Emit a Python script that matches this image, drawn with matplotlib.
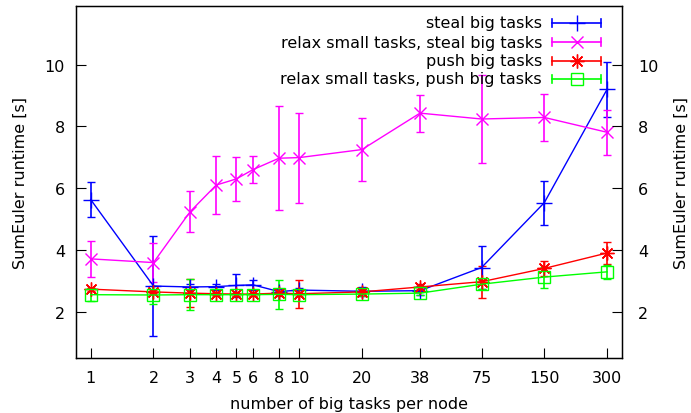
import matplotlib
matplotlib.use("Agg")
import matplotlib.pyplot as plt
from matplotlib.ticker import FixedLocator, FixedFormatter, NullLocator

plt.rcParams['font.family'] = ['DejaVu Sans']
FS = 11.5

tasks = [1, 2, 3, 4, 5, 6, 8, 10, 20, 38, 75, 150, 300]
tick_labels = ["1", "2", "3", "4", "5", "6", "8", "10", "20", "38", "75", "150", "300"]

steal_mean = [5.63, 2.83, 2.80, 2.81, 2.85, 2.87, 2.65, 2.70, 2.66, 2.68, 3.43, 5.53, 9.20]
steal_err = [0.57, 1.62, 0.10, 0.10, 0.36, 0.16, 0.08, 0.08, 0.15, 0.15, 0.69, 0.71, 0.90]

relax_steal_mean = [3.71, 3.59, 5.24, 6.10, 6.30, 6.60, 6.97, 6.99, 7.25, 8.43, 8.24, 8.29, 7.81]
relax_steal_err = [0.58, 0.64, 0.67, 0.93, 0.72, 0.43, 1.69, 1.46, 1.02, 0.60, 1.42, 0.77, 0.72]

push_mean = [2.73, 2.64, 2.60, 2.58, 2.57, 2.57, 2.60, 2.58, 2.64, 2.80, 2.97, 3.40, 3.90]
push_err = [0.05, 0.05, 0.45, 0.05, 0.05, 0.05, 0.08, 0.46, 0.08, 0.08, 0.52, 0.25, 0.36]

relax_push_mean = [2.55, 2.54, 2.55, 2.55, 2.55, 2.55, 2.56, 2.55, 2.57, 2.60, 2.89, 3.12, 3.29]
relax_push_err = [0.22, 0.30, 0.50, 0.05, 0.05, 0.05, 0.46, 0.05, 0.05, 0.05, 0.15, 0.34, 0.22]

series = [
    ("steal big tasks", steal_mean, steal_err, "#0000ff", "+", 11),
    ("relax small tasks, steal big tasks", relax_steal_mean, relax_steal_err, "#ff00ff", "x", 9),
    ("push big tasks", push_mean, push_err, "#ff0000", (8, 2, 0), 10),
    ("relax small tasks, push big tasks", relax_push_mean, relax_push_err, "#00ff00", "s", 9),
]

fig = plt.figure(figsize=(6.91, 4.14), dpi=100)
ax = fig.add_axes([0.110, 0.1329, 0.7902, 0.8502])

for label, mean, err, color, marker, ms in series:
    ax.errorbar(tasks, mean, yerr=err, color=color, lw=1.0, elinewidth=1.2,
                capsize=3, capthick=1.2, marker=marker, ms=ms, mew=1.0,
                mfc='none', mec=color)

ax.set_xscale('log', base=2)
ax.set_xlim(0.85, 354)
ax.set_ylim(0.5, 11.9)
ax.xaxis.set_major_locator(FixedLocator(tasks))
ax.xaxis.set_major_formatter(FixedFormatter(tick_labels))
ax.xaxis.set_minor_locator(NullLocator())
ax.set_yticks([2, 4, 6, 8, 10])

ax.tick_params(axis='x', direction='in', length=7, width=0.8, labelsize=FS, pad=9,
               top=False)
ax.tick_params(axis='y', direction='in', length=7, width=0.8, labelsize=FS, pad=8,
               left=True, right=True)
for sp in ax.spines.values():
    sp.set_linewidth(1.0)

ax2 = ax.twinx()
ax2.set_ylim(ax.get_ylim())
ax2.set_yticks([2, 4, 6, 8, 10])
ax2.tick_params(axis='y', direction='in', length=7, width=0.8, labelsize=FS, pad=11.5)

ax.set_xlabel("number of big tasks per node", fontsize=FS)
ax.xaxis.set_label_coords(0.5, -0.108)
ax.set_ylabel("SumEuler runtime [s]", fontsize=FS)
ax.yaxis.set_label_coords(-0.088, 0.5)
ax2.set_ylabel("SumEuler runtime [s]", fontsize=FS, rotation=90)
ax2.yaxis.set_label_coords(1.095, 0.5)

# key in the upper right: label, then a sample line with end ticks and marker
tr = ax.transAxes
row_y = [0.9517, 0.8977, 0.8438, 0.7926]
for (label, mean, err, color, marker, ms), y in zip(series, row_y):
    ax.text(0.8535, y, label, transform=tr, ha='right', va='center', fontsize=FS)
    ax.plot([0.872, 0.9615], [y, y], transform=tr, color=color, lw=1.2, clip_on=False)
    for xe in (0.872, 0.9615):
        ax.plot([xe, xe], [y - 0.011, y + 0.011], transform=tr, color=color, lw=1.2,
                clip_on=False)
    ax.plot([0.917], [y], transform=tr, color=color, marker=marker, ms=ms, mew=1.0,
            mfc='none', mec=color, clip_on=False)

fig.savefig("out.png", dpi=100)
